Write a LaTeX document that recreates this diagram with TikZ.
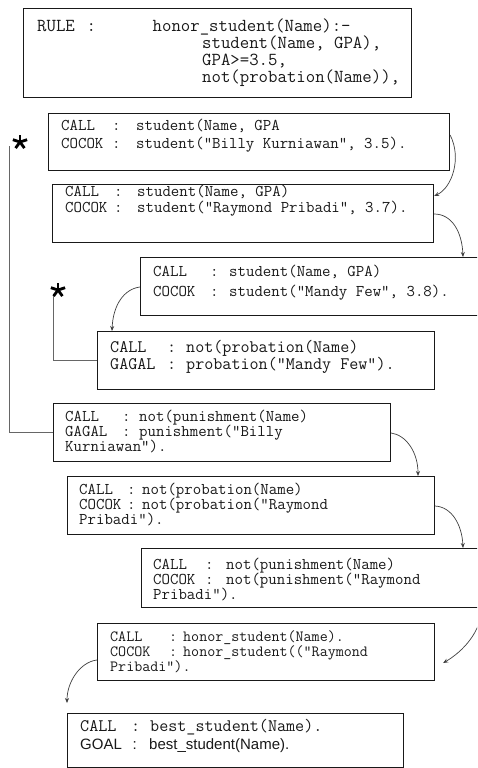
\documentclass[tikz,border=0pt]{standalone}
\usepackage{fontspec}
\newfontfamily\sansf{Liberation Sans}
\usetikzlibrary{arrows.meta}
\newlength\labw
\newlength\colw
\newcommand\Lns[2]{\vtop{\baselineskip=#1\relax\lineskiplimit=-\maxdimen\lineskip=0pt #2}}
\newcommand\Row[2]{\hbox{\makebox[\labw][l]{#1}\makebox[\colw][l]{:}#2}}
\newcommand\Ln[1]{\hbox{#1}}
\begin{document}
\begin{tikzpicture}[x=1pt,y=-1pt,
  box/.style={draw=black!90, line width=1.1pt, fill=white, anchor=north west, inner sep=0pt},
  txt/.style={anchor=base west, inner sep=0pt, text=black!90, font=\fontsize{16.4}{17}\selectfont\ttfamily},
  conn/.style={draw=black!75, line width=0.7pt, -{Stealth[length=5pt,width=4pt]}},
  link/.style={draw=black!60, line width=0.7pt},
  starline/.style={line width=2.8pt, black}]
\fill[white] (0,0) rectangle (477,768);
\useasboundingbox (0,0) rectangle (477,768);
\clip (0,0) rectangle (477,768);

% boxes
\node[box, minimum width=388pt, minimum height=89pt] (b1) at (23,8) {};
\node[box, minimum width=401pt, minimum height=57pt] (b2) at (48,113) {};
\node[box, minimum width=381pt, minimum height=58pt] (b3) at (52,184) {};
\node[box, minimum width=350pt, minimum height=58pt] (b4) at (140,257) {};
\node[box, minimum width=337pt, minimum height=58pt] (b5) at (97,331) {};
\node[box, minimum width=337pt, minimum height=58pt] (b6) at (53,403) {};
\node[box, minimum width=367pt, minimum height=58pt] (b7) at (67,476) {};
\node[box, minimum width=350pt, minimum height=59pt] (b8) at (141,548) {};
\node[box, minimum width=337pt, minimum height=57pt] (b9) at (97,623) {};
\node[box, minimum width=336pt, minimum height=54pt] (b10) at (67,713) {};

% texts
\node[txt, font=\fontsize{18.3}{17}\selectfont\ttfamily] (t1) at (37,32) {\Lns{17pt}{%
  \Ln{\makebox[49.5pt][l]{RULE}\makebox[66pt][l]{:}honor\_student(Name):-}%
  \Ln{\hspace*{165pt}student(Name, GPA),}%
  \Ln{\hspace*{165pt}GPA>=3.5,}%
  \Ln{\hspace*{165pt}not(probation(Name)),}}};
\node[txt] (t2) at (61,130) {\labw=51pt\colw=24pt\Lns{18pt}{%
  \Row{CALL}{student(Name, GPA}%
  \Row{COCOK}{student("Billy Kurniawan", 3.5).}}};
\node[txt] (t3) at (65,196) {\labw=49pt\colw=23pt\Lns{16pt}{%
  \Row{CALL}{student(Name, GPA)}%
  \Row{COCOK}{student("Raymond Pribadi", 3.7).}}};
\node[txt] (t4) at (153,276.5) {\labw=57pt\colw=19pt\Lns{20pt}{%
  \Row{CALL}{student(Name, GPA)}%
  \Row{COCOK}{student("Mandy Few", 3.8).}}};
\node[txt, font=\fontsize{17.6}{17}\selectfont\ttfamily] (t5) at (110,352) {\labw=57pt\colw=19pt\Lns{17pt}{%
  \Row{CALL}{not(probation(Name)}%
  \Row{GAGAL}{probation("Mandy Few").}}};
\node[txt] (t6) at (65,421.5) {\labw=57pt\colw=17pt\Lns{15pt}{%
  \Row{CALL}{not(punishment(Name)}%
  \Row{GAGAL}{punishment("Billy}%
  \Ln{Kurniawan").}}};
\node[txt] (t7) at (79,494.5) {\labw=48pt\colw=15pt\Lns{15pt}{%
  \Row{CALL}{not(probation(Name)}%
  \Row{COCOK}{not(probation("Raymond}%
  \Ln{Pribadi").}}};
\node[txt] (t8) at (153,569.5) {\labw=52pt\colw=21pt\Lns{15pt}{%
  \Row{CALL}{not(punishment(Name)}%
  \Row{COCOK}{not(punishment("Raymond}%
  \Ln{Pribadi").}}};
\node[txt, font=\fontsize{15.6}{15}\selectfont\ttfamily] (t9) at (110,641) {\labw=59pt\colw=14pt\Lns{15pt}{%
  \Row{CALL}{honor\_student(Name).}%
  \Row{COCOK}{honor\_student(("Raymond}%
  \Ln{Pribadi").}}};
\node[txt, font=\fontsize{17.6}{17}\selectfont\ttfamily] (t10) at (80,731.5) {\labw=51pt\colw=19pt\Lns{18pt}{%
  \Row{CALL}{best\_student(Name).}%
  \Ln{\sansf\fontsize{15}{17}\selectfont\makebox[\labw][l]{GOAL}\makebox[18pt][l]{\hspace{1.5pt}:}best\_student(Name).}}};

% stars
\coordinate (s1) at (20,142);
\coordinate (s2) at (58,290);
\foreach \s in {s1,s2}{
  \foreach \a in {270,342,54,126,198}{
    \draw[starline] (\s) -- ++(\a:7.5);
  }
}

% back links
\coordinate (l1top) at (53,296);
\coordinate (l2top) at (9,146);
\draw[link] (b5.west) -| (l1top);
\draw[link] (b6.west) -| (l2top);

% curved arrows
\draw[conn] ([yshift=-22pt]b2.north east) .. controls (462,158) and (452,188) .. ([yshift=-12pt]b3.north east);
\draw[conn] ([yshift=-30pt]b3.north east) .. controls (452,214) and (462,232) .. ([xshift=323pt]b4.north west);
\draw[conn] ([yshift=-30pt]b4.north west) .. controls (124,289) and (113,305) .. ([xshift=15pt]b5.north west);
\draw[conn] ([yshift=-30pt]b6.north east) .. controls (406,435) and (418,452) .. ([xshift=351pt]b7.north west);
\draw[conn] ([yshift=-30pt]b7.north east) .. controls (452,507) and (462,525) .. ([xshift=322pt]b8.north west);
\coordinate (a6s) at (482,606);
\draw[conn] (a6s) .. controls (482,632) and (462,652) .. ([xshift=8pt,yshift=-40pt]b9.north east);
\coordinate (a7e) at (67,703);
\draw[conn] ([yshift=-37pt]b9.north west) .. controls (80,662) and (67,682) .. (a7e);
\end{tikzpicture}
\end{document}
